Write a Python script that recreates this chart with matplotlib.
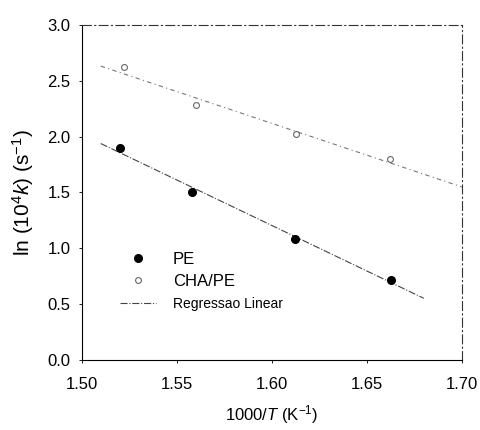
import numpy as np
import matplotlib
matplotlib.use("Agg")
import matplotlib.pyplot as plt

plt.rcParams['font.family'] = ['Liberation Sans', 'DejaVu Sans']
plt.rcParams['mathtext.fontset'] = 'custom'
plt.rcParams['mathtext.rm'] = 'Liberation Sans'
plt.rcParams['mathtext.it'] = 'Liberation Sans:italic'

pe_x = [1.520, 1.558, 1.612, 1.663]
pe_y = [1.90, 1.50, 1.08, 0.72]
cha_x = [1.522, 1.560, 1.613, 1.662]
cha_y = [2.62, 2.28, 2.02, 1.80]
pe_fit_range = [1.51, 1.68]
cha_fit_range = [1.51, 1.70]
xticks = [1.50, 1.55, 1.60, 1.65, 1.70]
yticks = [0.0, 0.5, 1.0, 1.5, 2.0, 2.5, 3.0]

fig = plt.figure(figsize=(4.81, 4.30), dpi=100)
ax = fig.add_axes([0.17, 0.163, 0.79, 0.779])

# regression lines
p_pe = np.polyfit(pe_x, pe_y, 1)
p_cha = np.polyfit(cha_x, cha_y, 1)
xr = np.array(pe_fit_range)
ax.plot(xr, np.polyval(p_pe, xr), color='#444444', lw=0.8, ls='-.', label='Regressao Linear', zorder=1)
xr2 = np.array(cha_fit_range)
ax.plot(xr2, np.polyval(p_cha, xr2), color='#777777', lw=0.8, ls=(0, (4, 3, 1, 3)), zorder=1)

ax.plot(pe_x, pe_y, 'o', color='black', ms=5.5, label='PE', zorder=3)
ax.plot(cha_x, cha_y, 'o', mfc='white', mec='#666666', mew=0.8, ms=4.2, label='CHA/PE', zorder=3)

ax.set_xlim(1.50, 1.70)
ax.set_ylim(0.0, 3.0)
ax.set_xticks(xticks)
ax.set_xticklabels([f"{v:.2f}" for v in xticks])
ax.set_yticks(yticks)
ax.set_yticklabels([f"{v:.1f}" for v in yticks])
ax.tick_params(labelsize=12, length=2, width=0.6)
ax.tick_params(axis='x', pad=10)
ax.tick_params(axis='y', pad=6)

for s in ax.spines.values():
    s.set_linewidth(0.8)
for s in ['top', 'right']:
    ax.spines[s].set_linestyle((0, (8, 3, 1, 3)))
    ax.spines[s].set_color('#333333')

ax.set_xlabel(r'1000/$T$ (K$^{-1}$)', fontsize=12, labelpad=8)
ax.set_ylabel(r'ln (10$^{4}$$k$) (s$^{-1}$)', fontsize=15, labelpad=8)

h, l = ax.get_legend_handles_labels()
order = [1, 2, 0]
leg = ax.legend([h[i] for i in order], [l[i] for i in order], loc='lower left',
                bbox_to_anchor=(0.06, 0.10), frameon=False, fontsize=12,
                handlelength=2.2, handletextpad=1.0, labelspacing=0.45)
leg.get_texts()[2].set_fontsize(10)

fig.savefig('out.png', dpi=100)
